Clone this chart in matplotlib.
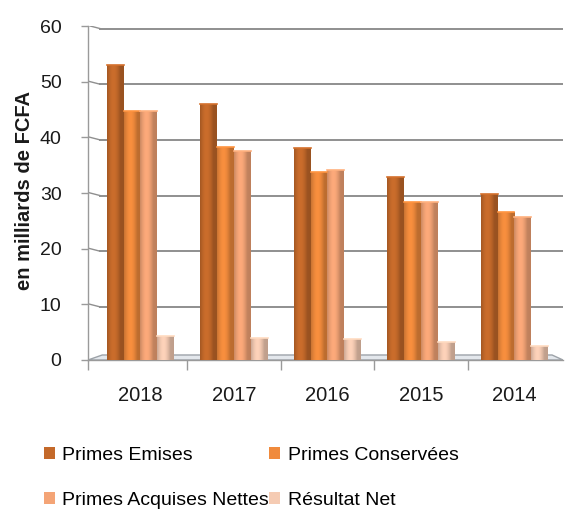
import numpy as np
import matplotlib.pyplot as plt
import matplotlib.colors as mcolors
from matplotlib.patches import Polygon, Patch
import matplotlib.transforms as mtransforms

plt.rcParams['font.family'] = ['Liberation Sans', 'DejaVu Sans']

years = ['2018', '2017', '2016', '2015', '2014']
series_names = ['Primes Emises', 'Primes Conservées', 'Primes Acquises Nettes', 'Résultat Net']
primes_emises = [53.0, 46.0, 38.0, 32.8, 29.8]
primes_conservees = [44.8, 38.3, 33.8, 28.3, 26.5]
primes_acquises = [44.8, 37.6, 34.2, 28.3, 25.7]
resultat_net = [4.4, 3.9, 3.7, 3.2, 2.6]
yticks = [0, 10, 20, 30, 40, 50, 60]

colors = ['#c4692a', '#f08a3c', '#f4a476', '#f5cbb3']
grid_col = '#8f8f8f'

fig = plt.figure(figsize=(5.65, 5.13), dpi=100)
ax = fig.add_axes([88/565, 153/513, 475/565, 334/513])
ax.set_xlim(-0.56, 4.52)
ax.set_ylim(0, 60)

x = np.arange(len(years))
w = 0.18
all_series = [primes_emises, primes_conservees, primes_acquises, resultat_net]

# horizontal shading profile for the cylinder-like columns
prof_x = np.linspace(0, 1, 40)
shade = 0.84 + 0.22 * np.sin(np.pi * np.clip(prof_x * 1.25, 0, 1)) - 0.06 * prof_x

for i, (vals, c) in enumerate(zip(all_series, colors)):
    bars = ax.bar(x + (i - 1.5) * w, vals, w, color=c, edgecolor='none', zorder=3)
    base = np.array(mcolors.to_rgb(c))
    grad = np.clip(base[None, :] * shade[:, None], 0, 1)[None, :, :]
    for b in bars:
        x0, y0 = b.get_x(), b.get_y()
        im = ax.imshow(grad, extent=[x0, x0 + b.get_width(), y0, y0 + b.get_height()],
                       aspect='auto', zorder=3.5, interpolation='bilinear')
        im.set_clip_path(b)
        ax.plot([x0, x0 + b.get_width()], [y0 + b.get_height()] * 2,
                color=mcolors.to_hex(np.clip(base * 1.08, 0, 1)), lw=1.2, zorder=4)

# back wall gridlines with a short slanted joint to the axis
trans = mtransforms.blended_transform_factory(ax.transAxes, ax.transData)
for t in yticks[1:]:
    ax.plot([0.025, 1.0], [t - 0.45, t - 0.45], color=grid_col, lw=1.4, transform=trans, zorder=1)
    ax.plot([0.0, 0.025], [t + 0.1, t - 0.45], color=grid_col, lw=1.0, transform=trans, zorder=1)

# floor slab
floor = Polygon([(0.0, 0.0), (1.0, 0.0), (0.977, 0.9), (0.03, 0.9)], closed=True,
                facecolor='#e3e7ec', edgecolor='#9da3a9', lw=1.0, transform=trans, zorder=2)
ax.add_patch(floor)

for s in ['top', 'right']:
    ax.spines[s].set_visible(False)
for s in ['left', 'bottom']:
    ax.spines[s].set_color('#9a9a9a')
    ax.spines[s].set_linewidth(1.0)

ax.set_yticks(yticks)
ax.tick_params(axis='y', length=5, width=1, color='#9a9a9a', pad=14, labelsize=14,
               labelcolor='#1a1a1a')
ax.set_xticks(x)
ax.set_xticklabels(years)
ax.tick_params(axis='x', which='major', length=0, pad=19, labelsize=14.5, labelcolor='#1a1a1a')
ax.set_xticks(list(x[:-1] + 0.5) + [-0.56], minor=True)
ax.tick_params(axis='x', which='minor', length=7, width=1, color='#9a9a9a')

fig.text(25/565, 1 - 191/513, 'en milliards de FCFA', rotation=90, ha='center', va='center',
         fontsize=14.5, fontweight='bold', color='#1a1a1a')

# legend fills column by column, so order the entries row-wise
handles = [Patch(facecolor=c, edgecolor='none') for c in colors]
order = [0, 2, 1, 3]
fig.legend([handles[k] for k in order], [series_names[k] for k in order], ncol=2,
           loc='upper left', bbox_to_anchor=(44/565, 1 - 447/513), frameon=False,
           fontsize=14, handlelength=0.55, handleheight=0.55, handletextpad=0.4,
           columnspacing=0.0, labelspacing=1.45, borderpad=0, borderaxespad=0)

fig.savefig('out.png', dpi=100)
